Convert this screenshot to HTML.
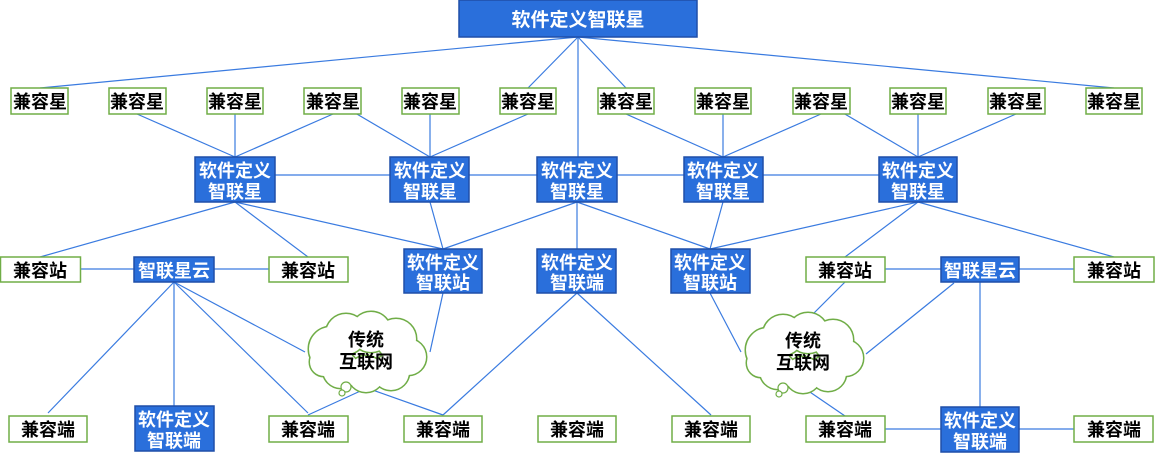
<!DOCTYPE html>
<html><head><meta charset="utf-8"><style>
html,body{margin:0;padding:0;background:#fff;width:1155px;height:453px;overflow:hidden}
svg{display:block}
text{font-family:"Liberation Sans","Noto Sans CJK SC",sans-serif;font-weight:bold;text-anchor:middle}
.g rect{fill:#fff;stroke:#70ad47;stroke-width:1.5}
.g text{fill:#000;font-size:18px}
.b rect{fill:#2a6fdb;stroke:#1f4fa8;stroke-width:1.5}
.b text{fill:#fff;font-size:18px}
.l line{stroke:#3a7be0;stroke-width:1.2}
</style></head><body>
<svg width="1155" height="453" viewBox="0 0 1155 453">
<g class="l">
<line x1="578" y1="37" x2="40" y2="88"/><line x1="578" y1="37" x2="528" y2="88"/><line x1="578" y1="37" x2="626" y2="88"/><line x1="578" y1="37" x2="1114" y2="88"/><line x1="578" y1="37" x2="578" y2="157"/>
<line x1="137" y1="114" x2="235" y2="157"/><line x1="235" y1="114" x2="235" y2="157"/><line x1="333" y1="114" x2="235" y2="157"/>
<line x1="333" y1="100" x2="430" y2="157"/><line x1="430" y1="114" x2="430" y2="157"/><line x1="528" y1="114" x2="430" y2="157"/>
<line x1="626" y1="114" x2="723" y2="157"/><line x1="723" y1="114" x2="723" y2="157"/><line x1="821" y1="114" x2="723" y2="157"/>
<line x1="821" y1="100" x2="918" y2="157"/><line x1="918" y1="114" x2="918" y2="157"/><line x1="1016" y1="114" x2="918" y2="157"/>
<line x1="275" y1="175" x2="879" y2="175"/>
<line x1="235" y1="202" x2="40" y2="257"/><line x1="235" y1="202" x2="308" y2="257"/><line x1="235" y1="202" x2="443" y2="249"/>
<line x1="430" y1="202" x2="443" y2="249"/><line x1="577" y1="202" x2="443" y2="249"/><line x1="577" y1="202" x2="577" y2="249"/><line x1="577" y1="202" x2="710" y2="249"/>
<line x1="723" y1="202" x2="710" y2="249"/><line x1="918" y1="202" x2="710" y2="249"/><line x1="918" y1="202" x2="845" y2="257"/><line x1="918" y1="202" x2="1114" y2="257"/>
<line x1="80" y1="269" x2="134" y2="269"/><line x1="214" y1="269" x2="269" y2="269"/><line x1="885" y1="269" x2="941" y2="269"/><line x1="1019" y1="269" x2="1074" y2="269"/>
<line x1="174" y1="282" x2="48" y2="413"/><line x1="174" y1="282" x2="174" y2="406"/><line x1="174" y1="282" x2="308" y2="413"/><line x1="174" y1="282" x2="305" y2="352"/>
<line x1="443" y1="293" x2="430" y2="352"/><line x1="367" y1="388" x2="308" y2="415"/><line x1="367" y1="388" x2="443" y2="415"/>
<line x1="577" y1="293" x2="443" y2="415"/><line x1="577" y1="293" x2="711" y2="415"/>
<line x1="710" y1="293" x2="741" y2="352"/><line x1="845" y1="282" x2="804" y2="323"/><line x1="954" y1="283" x2="866" y2="354"/>
<line x1="980" y1="282" x2="980" y2="407"/><line x1="804" y1="388" x2="845" y2="416"/>
<line x1="885" y1="429" x2="941" y2="429"/><line x1="1019" y1="429" x2="1074" y2="429"/>
</g>
<defs><g id="cloud">
<circle cx="-35" cy="-5" r="22"/><circle cx="-20" cy="-20" r="20"/><circle cx="5" cy="-22" r="20"/><circle cx="30" cy="-15" r="20"/><circle cx="42" cy="3" r="18"/><circle cx="25" cy="18" r="18"/><circle cx="0" cy="20" r="18"/><circle cx="-25" cy="16" r="18"/><circle cx="-42" cy="8" r="14"/>
</g></defs>
<g transform="translate(366,354)">
<use href="#cloud" fill="none" stroke="#70ad47" stroke-width="3"/><use href="#cloud" fill="#fff"/>
<circle cx="-20" cy="33" r="5" fill="#fff" stroke="#70ad47" stroke-width="1.2"/><circle cx="-24" cy="39" r="3" fill="#fff" stroke="#70ad47" stroke-width="1.2"/>
<text x="0" y="-8" font-size="18" fill="#000">传统</text><text x="0" y="14" font-size="18" fill="#000">互联网</text>
</g>
<g transform="translate(803,355)">
<use href="#cloud" fill="none" stroke="#70ad47" stroke-width="3"/><use href="#cloud" fill="#fff"/>
<circle cx="-20" cy="33" r="5" fill="#fff" stroke="#70ad47" stroke-width="1.2"/><circle cx="-24" cy="39" r="3" fill="#fff" stroke="#70ad47" stroke-width="1.2"/>
<text x="0" y="-8" font-size="18" fill="#000">传统</text><text x="0" y="14" font-size="18" fill="#000">互联网</text>
</g>
<g class="b"><rect x="459" y="0" width="238" height="37"/><text x="578" y="26" style="font-size:19px">软件定义智联星</text></g>
<g class="g">
<rect x="11" y="88" width="57" height="26"/><text x="40" y="108">兼容星</text>
<rect x="109" y="88" width="57" height="26"/><text x="137" y="108">兼容星</text>
<rect x="207" y="88" width="56" height="26"/><text x="235" y="108">兼容星</text>
<rect x="304" y="88" width="57" height="26"/><text x="333" y="108">兼容星</text>
<rect x="402" y="88" width="57" height="26"/><text x="430" y="108">兼容星</text>
<rect x="500" y="88" width="56" height="26"/><text x="528" y="108">兼容星</text>
<rect x="598" y="88" width="56" height="26"/><text x="626" y="108">兼容星</text>
<rect x="695" y="88" width="56" height="26"/><text x="723" y="108">兼容星</text>
<rect x="793" y="88" width="57" height="26"/><text x="821" y="108">兼容星</text>
<rect x="890" y="88" width="56" height="26"/><text x="918" y="108">兼容星</text>
<rect x="988" y="88" width="57" height="26"/><text x="1016" y="108">兼容星</text>
<rect x="1086" y="88" width="56" height="26"/><text x="1114" y="108">兼容星</text>
<rect x="0.5" y="257" width="80" height="25"/><text x="40" y="277">兼容站</text>
<rect x="269" y="257" width="79" height="25"/><text x="308" y="277">兼容站</text>
<rect x="806" y="257" width="79" height="25"/><text x="845" y="277">兼容站</text>
<rect x="1074" y="257" width="80" height="25"/><text x="1114" y="277">兼容站</text>
<rect x="9" y="416" width="78" height="26"/><text x="48" y="436">兼容端</text>
<rect x="269" y="416" width="79" height="26"/><text x="308" y="436">兼容端</text>
<rect x="404" y="416" width="78" height="26"/><text x="443" y="436">兼容端</text>
<rect x="538" y="416" width="78" height="26"/><text x="577" y="436">兼容端</text>
<rect x="672" y="416" width="78" height="26"/><text x="711" y="436">兼容端</text>
<rect x="806" y="416" width="79" height="26"/><text x="845" y="436">兼容端</text>
<rect x="1074" y="416" width="79" height="26"/><text x="1114" y="436">兼容端</text>
</g>
<g class="b">
<rect x="195" y="157" width="80" height="45"/><text x="235" y="177">软件定义</text><text x="235" y="198">智联星</text>
<rect x="390" y="157" width="79" height="45"/><text x="430" y="177">软件定义</text><text x="430" y="198">智联星</text>
<rect x="537" y="157" width="80" height="45"/><text x="577" y="177">软件定义</text><text x="577" y="198">智联星</text>
<rect x="684" y="157" width="79" height="45"/><text x="723" y="177">软件定义</text><text x="723" y="198">智联星</text>
<rect x="879" y="157" width="78" height="45"/><text x="918" y="177">软件定义</text><text x="918" y="198">智联星</text>
<rect x="404" y="249" width="78" height="44"/><text x="443" y="269">软件定义</text><text x="443" y="289">智联站</text>
<rect x="537" y="249" width="79" height="44"/><text x="577" y="269">软件定义</text><text x="577" y="289">智联端</text>
<rect x="671" y="249" width="79" height="44"/><text x="710" y="269">软件定义</text><text x="710" y="289">智联站</text>
<rect x="134" y="257" width="80" height="25"/><text x="174" y="277">智联星云</text>
<rect x="941" y="257" width="78" height="25"/><text x="980" y="277">智联星云</text>
<rect x="135" y="406" width="79" height="45"/><text x="174" y="426">软件定义</text><text x="174" y="447">智联端</text>
<rect x="941" y="407" width="78" height="45"/><text x="980" y="427">软件定义</text><text x="980" y="448">智联端</text>
</g>
</svg>
</body></html>
